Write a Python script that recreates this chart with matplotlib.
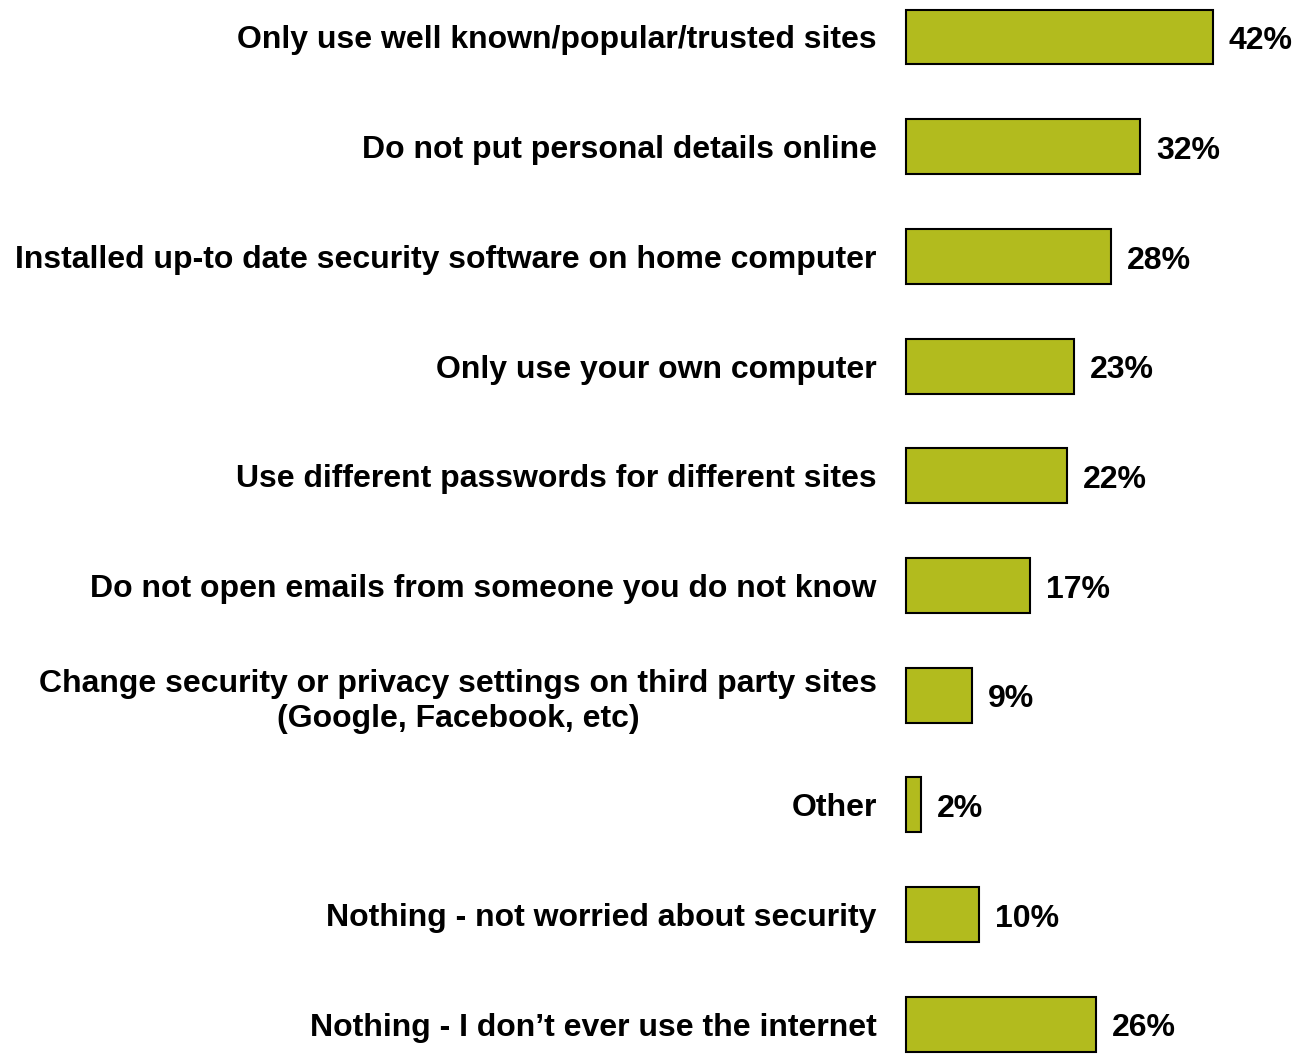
import matplotlib.pyplot as plt

categories = [
    "Only use well known/popular/trusted sites",
    "Do not put personal details online",
    "Installed up-to date security software on home computer",
    "Only use your own computer",
    "Use different passwords for different sites",
    "Do not open emails from someone you do not know",
    "Change security or privacy settings on third party sites\n(Google, Facebook, etc)",
    "Other",
    "Nothing - not worried about security",
    "Nothing - I don\u2019t ever use the internet",
]
values = [42, 32, 28, 23, 22, 17, 9, 2, 10, 26]

plt.rcParams['font.family'] = ['Liberation Sans', 'DejaVu Sans']
plt.rcParams['font.weight'] = 'bold'

fig = plt.figure(figsize=(13.07, 10.59), dpi=100)
ax = fig.add_axes([906 / 1307, 0, 54 * 7.31 / 1307, 1])

pos = list(range(len(categories)))
bars = ax.barh(pos, values, height=0.5, color='#B2BB1E', edgecolor='black', linewidth=1.5)
for b in bars:
    b.set_clip_on(False)

# percentage labels just right of each bar
for y, v in zip(pos, values):
    ax.annotate(f"{v}%", (v, y), xytext=(11.5, -3), textcoords='offset points',
                ha='left', va='center', fontsize=23, fontweight='bold')

ax.set_xlim(0, 54)
ax.set_ylim(9.316, -0.337)
ax.set_yticks(pos)
ax.set_yticklabels(categories, fontsize=23, fontweight='bold',
                   multialignment='center', linespacing=1.22)
ax.tick_params(axis='y', length=0, pad=21)
ax.set_xticks([])
for s in ax.spines.values():
    s.set_visible(False)

fig.savefig('out.png', dpi=100)
